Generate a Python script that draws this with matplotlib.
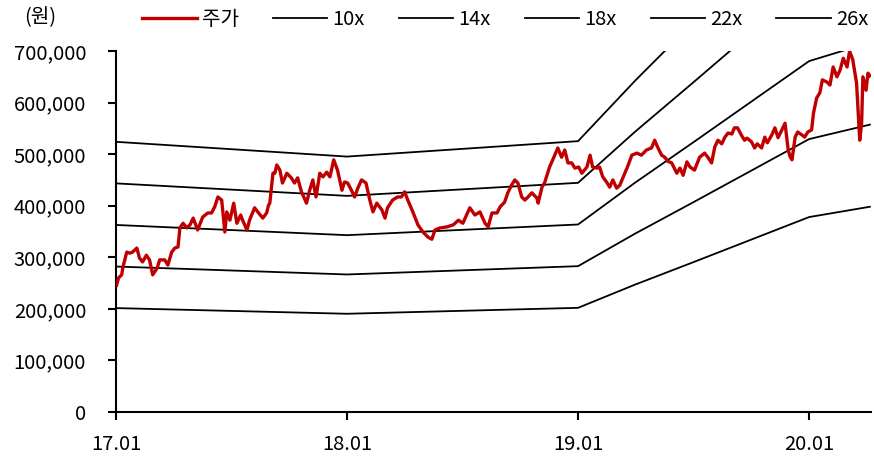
import pandas as pd
import matplotlib
matplotlib.use("Agg")
import matplotlib.pyplot as plt
import matplotlib.dates as mdates
from matplotlib.ticker import FuncFormatter

plt.rcParams['font.family'] = ['Noto Sans CJK KR', 'DejaVu Sans']

# --- 주가 (천원) ---
price_dates = [
    "2017-01-02", "2017-01-05", "2017-01-10", "2017-01-12", "2017-01-18", "2017-01-23", "2017-01-27",
    "2017-02-03", "2017-02-07", "2017-02-12", "2017-02-18", "2017-02-23", "2017-02-28",
    "2017-03-07", "2017-03-11", "2017-03-19", "2017-03-24", "2017-03-30",
    "2017-04-04", "2017-04-09", "2017-04-12", "2017-04-17", "2017-04-23", "2017-04-28",
    "2017-05-03", "2017-05-10", "2017-05-18", "2017-05-26",
    "2017-06-01", "2017-06-06", "2017-06-11", "2017-06-17", "2017-06-22", "2017-06-25", "2017-06-30",
    "2017-07-06", "2017-07-11", "2017-07-17", "2017-07-20", "2017-07-27", "2017-07-31",
    "2017-08-08", "2017-08-13", "2017-08-21", "2017-08-27", "2017-08-30",
    "2017-09-01", "2017-09-06", "2017-09-09", "2017-09-12", "2017-09-17", "2017-09-21", "2017-09-28",
    "2017-10-05", "2017-10-10", "2017-10-15", "2017-10-21", "2017-10-29",
    "2017-11-03", "2017-11-08", "2017-11-13", "2017-11-19", "2017-11-24", "2017-11-30",
    "2017-12-05", "2017-12-11", "2017-12-17", "2017-12-24", "2017-12-28",
    "2018-01-02", "2018-01-08", "2018-01-13", "2018-01-18", "2018-01-24", "2018-01-31",
    "2018-02-06", "2018-02-11", "2018-02-17", "2018-02-25",
    "2018-03-02", "2018-03-06", "2018-03-14", "2018-03-22", "2018-03-28",
    "2018-04-02", "2018-04-07", "2018-04-15", "2018-04-23",
    "2018-05-01", "2018-05-09", "2018-05-15", "2018-05-20", "2018-05-28",
    "2018-06-08", "2018-06-18", "2018-06-26",
    "2018-07-03", "2018-07-14", "2018-07-22", "2018-07-30",
    "2018-08-07", "2018-08-12", "2018-08-18", "2018-08-26", "2018-08-31",
    "2018-09-07", "2018-09-12", "2018-09-18", "2018-09-23", "2018-09-28",
    "2018-10-04", "2018-10-09", "2018-10-14", "2018-10-20", "2018-10-28", "2018-10-30",
    "2018-11-05", "2018-11-09", "2018-11-14", "2018-11-17", "2018-11-22", "2018-11-30",
    "2018-12-06", "2018-12-11", "2018-12-16", "2018-12-22", "2018-12-27",
    "2019-01-02", "2019-01-07", "2019-01-15", "2019-01-20", "2019-01-24", "2019-01-31",
    "2019-02-04", "2019-02-09", "2019-02-15", "2019-02-20", "2019-02-25",
    "2019-03-03", "2019-03-08", "2019-03-16", "2019-03-20", "2019-03-27",
    "2019-04-04", "2019-04-11", "2019-04-19", "2019-04-27",
    "2019-05-02", "2019-05-07", "2019-05-13", "2019-05-18", "2019-05-23", "2019-05-29",
    "2019-06-06", "2019-06-11", "2019-06-16", "2019-06-22", "2019-06-27",
    "2019-07-04", "2019-07-12", "2019-07-20", "2019-07-25", "2019-07-31",
    "2019-08-05", "2019-08-10", "2019-08-16", "2019-08-21", "2019-08-26",
    "2019-09-01", "2019-09-05", "2019-09-10", "2019-09-16", "2019-09-21", "2019-09-25",
    "2019-10-02", "2019-10-07", "2019-10-11", "2019-10-18", "2019-10-23", "2019-10-27",
    "2019-11-03", "2019-11-08", "2019-11-13", "2019-11-19", "2019-11-24", "2019-11-29",
    "2019-12-02", "2019-12-05", "2019-12-10", "2019-12-14", "2019-12-21", "2019-12-25", "2019-12-30",
    "2020-01-05", "2020-01-08", "2020-01-13", "2020-01-18", "2020-01-22", "2020-01-29",
    "2020-02-03", "2020-02-08", "2020-02-14", "2020-02-19", "2020-02-24",
    "2020-03-01", "2020-03-05", "2020-03-10", "2020-03-16", "2020-03-21", "2020-03-24",
    "2020-03-26", "2020-03-31", "2020-04-03", "2020-04-06",
]
price_k = [
    246, 260, 266, 281, 310, 308, 310,
    318, 299, 291, 304, 295, 266,
    279, 295, 295, 285, 310,
    318, 320, 357, 366, 357, 363,
    376, 353, 378, 386,
    386, 398, 417, 411, 349, 388, 372,
    405, 366, 382, 372, 353, 372,
    396, 388, 376, 386, 401,
    405, 463, 463, 479, 469, 444, 463,
    454, 444, 454, 427, 405,
    430, 450, 417, 463, 456, 465,
    456, 489, 469, 430, 446,
    444, 430, 417, 434, 450, 444,
    411, 388, 405, 392,
    376, 396, 411, 417, 417,
    427, 411, 388, 363,
    349, 339, 335, 353, 357,
    359, 363, 372,
    366, 396, 382, 388,
    366, 359, 386, 386, 398,
    407, 425, 440, 450, 444,
    417, 411, 417, 425, 415, 405,
    436, 444, 463, 475, 489, 512,
    494, 508, 483, 483, 473,
    475, 463, 475, 498, 475, 473,
    475, 456, 446, 436, 450,
    434, 440, 463, 475, 498,
    502, 498, 508, 512,
    527, 513, 498, 494, 486, 483,
    463, 473, 459, 485, 475,
    469, 494, 502, 494, 483,
    514, 527, 520, 533, 541,
    539, 551, 551, 537, 527, 531,
    524, 512, 520, 512, 533, 522,
    537, 551, 532, 547, 560, 508,
    495, 489, 533, 543, 537, 533, 543,
    547, 580, 609, 619, 644, 640,
    634, 669, 650, 663, 686,
    669, 700, 683, 638, 527, 560,
    650, 624, 657, 652,
]

# --- EPS (천원) for the PER band ---
eps_dates = ["2017-01-01", "2018-01-01", "2019-01-01", "2019-04-01",
             "2019-07-01", "2019-10-01", "2020-01-01", "2020-04-06"]
eps_k = [20.15, 19.05, 20.2, 24.7, 29.0, 33.4, 37.8, 39.8]
multiples = [10, 14, 18, 22, 26]

pdates = pd.to_datetime(price_dates)
edates = pd.to_datetime(eps_dates)

fig = plt.figure(figsize=(8.74, 4.62), dpi=100)
ax = fig.add_axes([0.1327, 0.1082, 0.864, 0.7814])

ax.plot(pdates, [v * 1000 for v in price_k], color="#C00000", lw=2.4,
        label="주가", zorder=3)
for m in multiples:
    ax.plot(edates, [e * m * 1000 for e in eps_k], color="black", lw=1.3,
            label=f"{m}x", zorder=2)

ax.set_ylim(0, 700000)
ax.set_yticks(range(0, 700001, 100000))
ax.yaxis.set_major_formatter(FuncFormatter(lambda v, p: f"{int(v):,}"))
ax.set_xlim(pd.Timestamp("2017-01-01"), pd.Timestamp("2020-04-08"))
ax.set_xticks(pd.to_datetime(["2017-01-01", "2018-01-01", "2019-01-01", "2020-01-01"]))
ax.xaxis.set_major_formatter(mdates.DateFormatter("%y.%m"))

for s in ["top", "right"]:
    ax.spines[s].set_visible(False)
for s in ["left", "bottom"]:
    ax.spines[s].set_linewidth(1.5)
ax.tick_params(axis="both", direction="out", length=5.5, width=1.5, labelsize=14.5)
ax.tick_params(axis="y", pad=16)
ax.tick_params(axis="x", pad=10)

fig.text(0.046, 0.961, "(원)", fontsize=14.5, ha="center", va="center")
fig.legend(loc="center left", bbox_to_anchor=(0.142, 0.957), ncol=6, frameon=False,
           fontsize=14.5, handlelength=2.7, columnspacing=1.7, handletextpad=0.25)

fig.savefig("out.png", dpi=100)
